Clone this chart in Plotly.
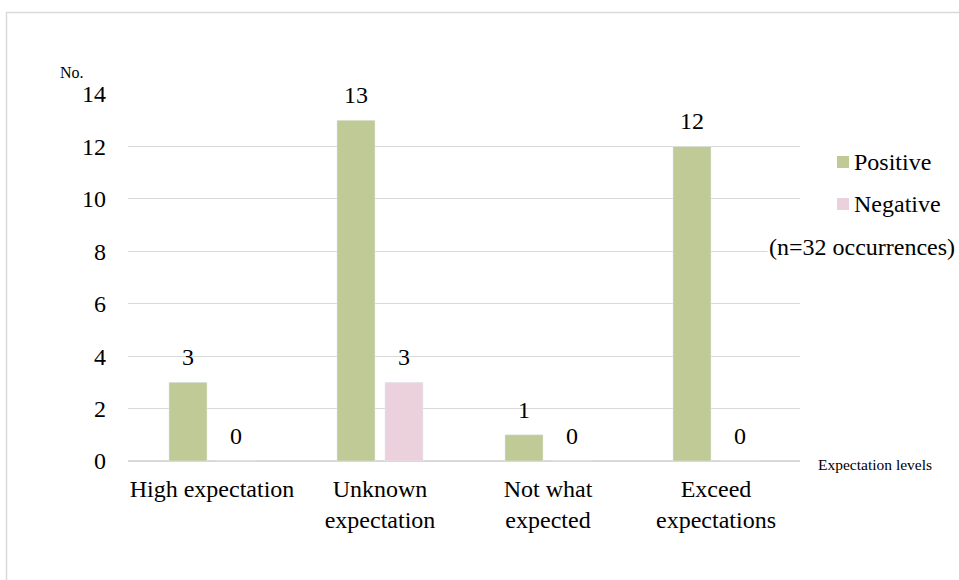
import plotly.graph_objects as go

categories = ["High expectation", "Unknown<br>expectation", "Not what<br>expected", "Exceed<br>expectations"]
series_names = ["Positive", "Negative"]
positive = [3, 13, 1, 12]
negative = [0, 3, 0, 0]
y_ticks = [0, 2, 4, 6, 8, 10, 12, 14]
colors = ["#BFCA96", "#EAD1DB"]

FONT = "Liberation Serif"
FS = 24
W, H = 959, 580
L, R, T, B = 128, 159, 94, 119
pw, ph = W - L - R, H - T - B

def px_x(x):
    return (x - L) / pw

def px_y(y):
    return (H - B - y) / ph

fig = go.Figure()
for name, vals, col in zip(series_names, (positive, negative), colors):
    fig.add_trace(go.Bar(x=categories, y=vals, name=name, marker_color=col, showlegend=False))

# value labels above bars
for vals, shift in ((positive, -24), (negative, 24)):
    for c, v in zip(categories, vals):
        fig.add_annotation(x=c, y=v, text=str(v), showarrow=False, xshift=shift,
                           yanchor="middle", yshift=25,
                           font=dict(family=FONT, size=FS, color="#000"))

fig.update_layout(
    width=W, height=H,
    margin=dict(l=L, r=R, t=T, b=B),
    paper_bgcolor="white", plot_bgcolor="white",
    barmode="group", bargap=0.4286, bargroupgap=0.208,
    font=dict(family=FONT, size=FS, color="#000"),
    showlegend=False,
)
fig.update_yaxes(range=[0, 14], tickvals=y_ticks, showgrid=True, gridcolor="#D9D9D9",
                 gridwidth=1, zeroline=True, zerolinecolor="#D9D9D9", showline=False,
                 ticks="", ticklabelstandoff=21, tickfont=dict(family=FONT, size=FS))
fig.update_xaxes(showline=True, linecolor="#D9D9D9", ticks="", showgrid=False,
                 tickfont=dict(family=FONT, size=FS), ticklabelstandoff=6)

# legend (drawn manually to match the original spacing)
for i, (name, col) in enumerate(zip(series_names, colors)):
    yc = 162 + 42 * i
    fig.add_shape(type="rect", xref="paper", yref="paper",
                  x0=px_x(837), x1=px_x(849), y0=px_y(yc - 6), y1=px_y(yc + 6),
                  line=dict(width=0), fillcolor=col)
    fig.add_annotation(text=name, x=px_x(852), y=px_y(yc), xref="paper", yref="paper",
                       showarrow=False, font=dict(family=FONT, size=FS),
                       xanchor="left", yanchor="middle")

fig.add_annotation(text="(n=32 occurrences)", x=px_x(862), y=px_y(247), xref="paper", yref="paper",
                   showarrow=False, font=dict(family=FONT, size=FS), xanchor="center",
                   yanchor="middle", bgcolor="white")
fig.add_annotation(text="No.", x=px_x(72), y=px_y(73), xref="paper", yref="paper",
                   showarrow=False, font=dict(family=FONT, size=16), xanchor="center", yanchor="middle")
fig.add_annotation(text="Expectation levels", x=px_x(816), y=px_y(464), xref="paper", yref="paper",
                   showarrow=False, font=dict(family=FONT, size=15.5), xanchor="left", yanchor="middle")

fig.add_shape(type="rect", xref="paper", yref="paper",
              x0=px_x(6.5), x1=px_x(970), y0=px_y(12.5), y1=px_y(590),
              line=dict(color="#D9D9D9", width=1.5), fillcolor="rgba(0,0,0,0)", layer="below")

fig.write_html("out.html")
